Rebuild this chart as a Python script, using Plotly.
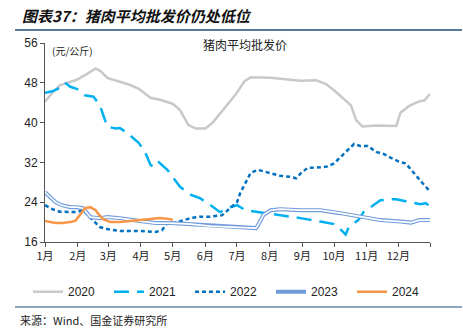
import pandas as pd
import plotly.graph_objects as go

# ---- data (day offset from Jan 1, value in 元/公斤) ----
days_2020 = [0, 7, 14, 22, 30, 40, 48, 53, 59, 71, 80, 89, 100, 109, 121, 128, 136, 143, 152, 159, 166, 174, 182, 189, 195, 214, 233, 242, 257, 266, 274, 282, 290, 295, 301, 314, 328, 333, 337, 345, 354, 360, 365]
vals_2020 = [44.2, 46.0, 47.5, 48.0, 48.6, 49.8, 50.9, 50.3, 49.0, 48.2, 47.6, 46.8, 45.0, 44.6, 43.8, 42.5, 39.5, 38.8, 38.8, 40.0, 41.8, 44.0, 46.0, 48.3, 49.1, 49.0, 48.6, 48.4, 48.5, 47.8, 46.5, 45.0, 43.5, 40.5, 39.2, 39.4, 39.4, 39.3, 42.0, 43.3, 44.2, 44.5, 45.8]

days_2021 = [0, 7, 14, 19, 24, 30, 38, 46, 52, 56, 59, 67, 71, 78, 89, 95, 100, 104, 108, 116, 121, 128, 138, 147, 157, 166, 176, 182, 190, 200, 209, 219, 233, 242, 261, 274, 280, 285, 288, 297, 302, 309, 314, 318, 328, 333, 342, 350, 356, 361, 365]
vals_2021 = [46.0, 46.3, 47.0, 48.0, 47.2, 46.8, 45.5, 45.2, 43.5, 41.0, 39.2, 38.8, 38.9, 37.9, 35.9, 34.0, 31.5, 31.0, 32.0, 30.5, 29.1, 27.1, 25.5, 24.8, 23.4, 22.0, 23.0, 23.4, 22.4, 22.1, 21.8, 21.6, 21.2, 20.8, 20.1, 19.6, 18.6, 17.5, 19.0, 20.4, 22.0, 23.0, 23.7, 24.4, 24.6, 24.6, 24.2, 23.8, 23.6, 23.8, 23.1]

days_2022 = [0, 7, 14, 22, 30, 36, 43, 52, 59, 71, 90, 105, 111, 116, 124, 131, 138, 147, 157, 168, 176, 182, 185, 190, 195, 202, 212, 223, 233, 238, 242, 249, 261, 268, 274, 280, 287, 293, 299, 306, 314, 321, 328, 336, 342, 347, 354, 358, 364]
vals_2022 = [23.4, 22.6, 22.1, 22.0, 22.0, 22.4, 21.0, 19.0, 18.6, 18.2, 18.2, 18.0, 18.4, 19.8, 19.9, 20.4, 20.8, 21.1, 21.1, 21.4, 22.8, 24.0, 25.8, 27.8, 29.9, 30.5, 29.9, 29.3, 29.1, 28.8, 29.7, 30.9, 31.0, 31.2, 31.8, 33.0, 34.5, 35.7, 35.3, 35.3, 34.1, 33.7, 32.9, 32.1, 31.8, 30.5, 28.8, 27.8, 26.4]

days_2023 = [0, 5, 10, 16, 24, 30, 36, 43, 52, 59, 71, 90, 105, 119, 138, 157, 176, 195, 200, 202, 207, 214, 223, 242, 261, 280, 299, 318, 337, 347, 355, 365]
vals_2023 = [26.0, 25.0, 24.0, 23.4, 23.0, 23.0, 22.8, 21.0, 20.8, 21.0, 20.8, 20.2, 19.8, 19.8, 19.6, 19.2, 19.0, 18.8, 18.8, 19.4, 21.4, 22.4, 22.6, 22.4, 22.4, 21.8, 21.1, 20.4, 20.1, 19.9, 20.4, 20.4]

days_2024 = [0, 10, 16, 24, 29, 33, 38, 43, 48, 50, 55, 62, 71, 81, 90, 100, 109, 119, 121]
vals_2024 = [20.2, 19.8, 19.8, 20.0, 20.3, 21.4, 22.8, 23.0, 22.4, 21.8, 20.6, 20.0, 20.0, 20.2, 20.4, 20.6, 20.8, 20.6, 20.4]

month_labels = ["1月", "2月", "3月", "4月", "5月", "6月", "7月", "8月", "9月", "10月", "11月", "12月", ""]
y_ticks = [16, 24, 32, 40, 48, 56]

base = pd.Timestamp("2020-01-01")
def to_dates(days):
    return [base + pd.Timedelta(days=d) for d in days]

FONT = "Liberation Sans, Arial, Noto Sans CJK SC, sans-serif"
CJK = "Noto Sans CJK SC, sans-serif"

fig = go.Figure()
fig.add_trace(go.Scatter(x=to_dates(days_2020), y=vals_2020, name="2020", mode="lines",
                         line=dict(color="#C9C9C9", width=2.5)))
fig.add_trace(go.Scatter(x=to_dates(days_2021), y=vals_2021, name="2021", mode="lines",
                         line=dict(color="#00B0F0", width=2.5, dash="15px,8px")))
fig.add_trace(go.Scatter(x=to_dates(days_2022), y=vals_2022, name="2022", mode="lines",
                         line=dict(color="#0070C0", width=2.5, dash="4px,3px")))
fig.add_trace(go.Scatter(x=to_dates(days_2023), y=vals_2023, name="2023", mode="lines",
                         line=dict(color="#6F9BDB", width=4)))
fig.add_trace(go.Scatter(x=to_dates(days_2023), y=vals_2023, name="2023w", mode="lines",
                         line=dict(color="#FFFFFF", width=1.6), showlegend=False, hoverinfo="skip"))
fig.add_trace(go.Scatter(x=to_dates(days_2024), y=vals_2024, name="2024", mode="lines",
                         line=dict(color="#F79646", width=2.5)))

month_ticks = [pd.Timestamp(2020, m, 1) for m in range(1, 13)] + [pd.Timestamp("2020-12-31")]

fig.update_layout(
    width=463, height=332,
    margin=dict(l=45, r=33, t=43, b=90),
    paper_bgcolor="white", plot_bgcolor="white",
    font=dict(family=FONT, size=12, color="#222"),
    showlegend=True,
    legend=dict(orientation="h", x=(28 - 45) / 385, xanchor="left", y=-0.25, yanchor="middle",
                font=dict(size=12, color="#222"), entrywidth=36, entrywidthmode="pixels",
                itemwidth=30, tracegroupgap=0, bgcolor="rgba(0,0,0,0)"),
    xaxis=dict(type="date", range=[pd.Timestamp("2020-01-01"), pd.Timestamp("2020-12-31")],
               tickmode="array", tickvals=month_ticks, ticktext=month_labels,
               ticks="outside", ticklen=4, tickcolor="#555", showline=True, linecolor="#555",
               linewidth=1, showgrid=False, zeroline=False,
               tickfont=dict(family=CJK, size=11, color="#222")),
    yaxis=dict(range=[16, 56], tickmode="array", tickvals=y_ticks,
               ticks="outside", ticklen=4, tickcolor="#555", showline=True, linecolor="#555",
               linewidth=1, showgrid=False, zeroline=False,
               tickfont=dict(size=12, color="#222")),
)

# Header title and rules
fig.add_annotation(text="<b><i>图表37：猪肉平均批发价仍处低位</i></b>", xref="paper", yref="paper",
                   x=(20 - 45) / 385, y=(242 - 15) / 199, xanchor="left", yanchor="middle",
                   showarrow=False, font=dict(family=CJK, size=15, color="#111"))
fig.add_shape(type="line", xref="paper", yref="paper",
              x0=(15 - 45) / 385, x1=(462 - 45) / 385, y0=(242 - 30) / 199, y1=(242 - 30) / 199,
              line=dict(color="#1F4E79", width=1.5))
fig.add_shape(type="line", xref="paper", yref="paper",
              x0=(15 - 45) / 385, x1=(462 - 45) / 385, y0=(242 - 307) / 199, y1=(242 - 307) / 199,
              line=dict(color="#1F4E79", width=1.2))
fig.add_annotation(text="来源：Wind、国金证券研究所", xref="paper", yref="paper",
                   x=(18 - 45) / 385, y=(242 - 320) / 199, xanchor="left", yanchor="middle",
                   showarrow=False, font=dict(family=CJK, size=11, color="#222"))
# Chart title and unit
fig.add_annotation(text="猪肉平均批发价", xref="paper", yref="paper",
                   x=(245 - 45) / 385, y=(242 - 44) / 199, xanchor="center", yanchor="middle",
                   showarrow=False, font=dict(family=CJK, size=12, color="#222"))
fig.add_annotation(text="(元/公斤)", xref="paper", yref="paper",
                   x=(50 - 45) / 385, y=(242 - 50) / 199, xanchor="left", yanchor="middle",
                   showarrow=False, font=dict(family=CJK, size=10, color="#222"))

fig.write_html("out.html")
